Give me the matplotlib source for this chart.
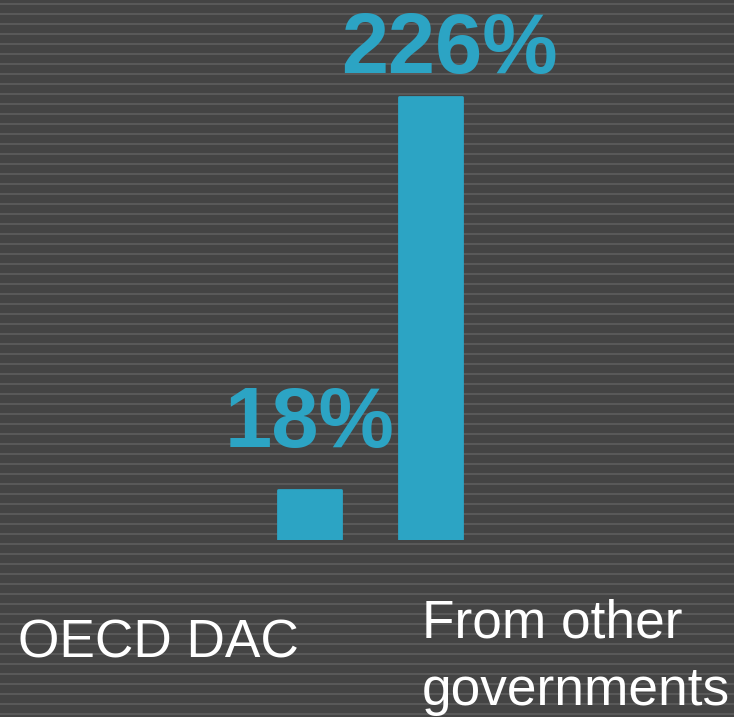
"""Two-bar comparison: OECD DAC vs other governments, striped dark backdrop."""

import matplotlib
matplotlib.use("Agg")
import matplotlib.pyplot as plt

categories = ["OECD DAC", "From other\ngovernments"]
values = [18, 226]
value_labels = ["18%", "226%"]

BG = "#444444"
STRIPE = "#595959"
BLUE = "#2ca4c4"
W, H = 734, 717

plt.rcParams["font.family"] = ["Liberation Sans", "DejaVu Sans"]

fig = plt.figure(figsize=(W / 100, H / 100), dpi=100)
fig.patch.set_facecolor(BG)

# background stripes in pixel space
bg = fig.add_axes([0, 0, 1, 1], zorder=0)
bg.set_xlim(0, W)
bg.set_ylim(H, 0)
bg.set_facecolor(BG)
bg.axis("off")
for y in range(4, H, 10):
    bg.axhspan(y - 1, y + 1, color=STRIPE, lw=0)

# bar axes: bottom edge sits on the bar baseline (540 px from top)
base_px = 540
ax = fig.add_axes([0, (H - base_px) / H, 1, base_px / H], zorder=1)
ax.set_facecolor("none")
ax.axis("off")
px_per_unit_y = 443 / (226 + 8.5)
bottom = -8.5
ax.set_ylim(bottom, bottom + base_px / px_per_unit_y)
x0, px_per_unit_x = 309, 121.5
ax.set_xlim(-x0 / px_per_unit_x, (W - x0) / px_per_unit_x)

xs = list(range(len(values)))
heights = [v - bottom for v in values]
ax.bar(xs, heights, bottom=bottom, width=63 / px_per_unit_x, color=BLUE,
       edgecolor=BLUE, linewidth=2, joinstyle="round")

label_dx = [0.5, 13.3]
label_dy = [31, 17.3]
for x, v, lab, dx, dy in zip(xs, values, value_labels, label_dx, label_dy):
    ax.annotate(lab, (x, v), xytext=(dx, dy), textcoords="offset points",
                ha="center", va="baseline", fontsize=61, fontweight="bold",
                color=BLUE)

cat_pos = [(18, 657), (422, 705)]
for name, (px, py) in zip(categories, cat_pos):
    fig.text(px / W, 1 - py / H, name, ha="left", va="baseline",
             fontsize=38.3, color="white", linespacing=1.45)

fig.savefig("out.png", dpi=100, facecolor=BG)
